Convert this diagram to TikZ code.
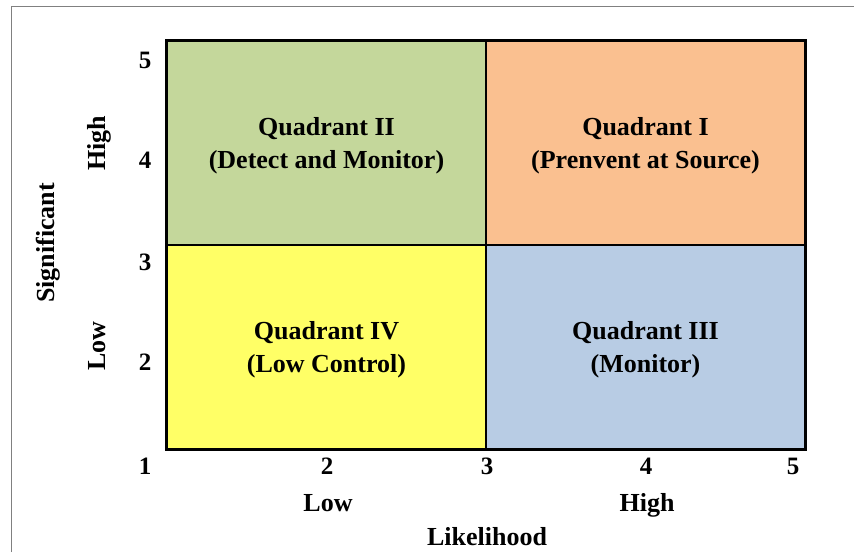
\documentclass[tikz,border=0pt]{standalone}
\usepackage{fontspec}
\setmainfont{Liberation Serif}
\usepackage{xcolor}
\usetikzlibrary{positioning}

\definecolor{quadgreen}{HTML}{C4D79B}
\definecolor{quadorange}{HTML}{FAC090}
\definecolor{quadyellow}{HTML}{FFFF66}
\definecolor{quadblue}{HTML}{B8CCE4}

\begin{document}
\begin{tikzpicture}[
        x=1pt, y=-1pt,
        quad/.style={rectangle, draw=black, line width=1.5pt, minimum width=319pt, minimum height=204pt, inner sep=0pt, text depth=0pt, align=center, font=\fontsize{26}{33}\selectfont\bfseries},
        tick/.style={inner sep=0pt, anchor=base, font=\fontsize{25}{28}\selectfont\bfseries},
        axislabel/.style={inner sep=0pt, anchor=base, font=\fontsize{26}{28}\selectfont\bfseries}
    ]
    \useasboundingbox (0,0) rectangle (854,552);
    % outer frame of the chart area
    \draw[gray, line width=1pt] (11.5,552) -- (11.5,6.5) -- (854,6.5);

    \node[quad, fill=quadgreen] (q2) at (326.5,143) {Quadrant II\\(Detect and Monitor)};
    \node[quad, fill=quadorange] (q1) at (645.5,143) {Quadrant I\\(Prenvent at Source)};
    \node[quad, fill=quadyellow] (q4) at (326.5,347) {Quadrant IV\\(Low Control)};
    \node[quad, fill=quadblue] (q3) at (645.5,347) {Quadrant III\\(Monitor)};
    \draw[line width=2pt] (q2.north west) rectangle (q3.south east);

    % tick numbers
    \node[tick] (y5) at (145,68) {5};
    \node[tick] (y4) at (145,168) {4};
    \node[tick] (y3) at (145,270) {3};
    \node[tick] (y2) at (145,370) {2};
    \node[tick] (x1) at (145,474) {1};
    \node[tick] (x2) at (327,474) {2};
    \node[tick] (x3) at (487,474) {3};
    \node[tick] (x4) at (646,474) {4};
    \node[tick] (x5) at (793,474) {5};

    % axis labels
    \node[axislabel] (xlow) at (328,511) {Low};
    \node[axislabel] (xhigh) at (647,511) {High};
    \node[axislabel] (xtitle) at (487,545) {Likelihood};
    \node[axislabel, rotate=90] (yhigh) at (105,143) {High};
    \node[axislabel, rotate=90] (ylow) at (105,346) {Low};
    \node[axislabel, rotate=90] (ytitle) at (54,243) {Significant};
\end{tikzpicture}
\end{document}
